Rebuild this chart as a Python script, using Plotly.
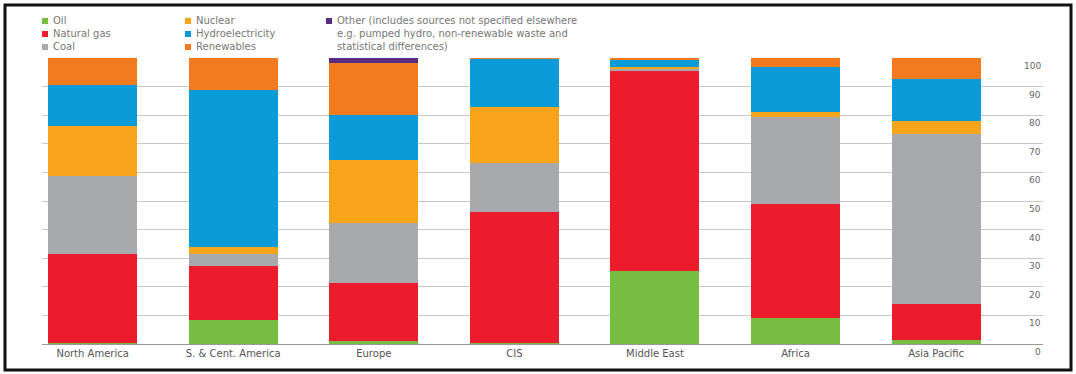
import plotly.graph_objects as go

regions = ["North America", "S. & Cent. America", "Europe", "CIS",
           "Middle East", "Africa", "Asia Pacific"]

oil = [0.5, 8.3, 1.0, 0.5, 25.6, 9.2, 1.5]
natural_gas = [31.1, 19.1, 20.2, 45.8, 69.9, 39.6, 12.4]
coal = [27.0, 4.1, 21.0, 17.0, 1.0, 30.6, 59.7]
nuclear = [17.5, 2.5, 22.2, 19.6, 0.5, 1.8, 4.4]
hydro = [14.4, 54.8, 15.5, 17.0, 2.5, 15.5, 14.5]
renewables = [9.5, 11.2, 18.2, 0.1, 0.5, 3.3, 7.5]
other = [0.0, 0.0, 1.9, 0.0, 0.0, 0.0, 0.0]

y_ticks = [0, 10, 20, 30, 40, 50, 60, 70, 80, 90, 100]

series = [
    ("Oil", oil, "#77bd43"),
    ("Natural gas", natural_gas, "#ec1c2c"),
    ("Coal", coal, "#a7a9ac"),
    ("Nuclear", nuclear, "#f8a51b"),
    ("Hydroelectricity", hydro, "#0a9bd8"),
    ("Renewables", renewables, "#f47a20"),
    ("Other", other, "#5b2c83"),
]
other_label = ["Other (includes sources not specified elsewhere",
               "e.g. pumped hydro, non-renewable waste and",
               "statistical differences)"]

fig = go.Figure()
for name, vals, col in series:
    fig.add_trace(go.Bar(x=regions, y=vals, name=name, marker_color=col,
                         marker_line_width=0, width=0.633, showlegend=False))

W, H = 1076, 374
L, R, T, B = 42, 33, 58, 30
pw = W - L - R
ph = H - T - B


def px_x(p):
    return (p - L) / pw


def px_y(p):
    return (H - B - p) / ph


fig.update_layout(
    width=W, height=H,
    margin=dict(l=L, r=R, t=T, b=B),
    barmode="stack",
    paper_bgcolor="white",
    plot_bgcolor="white",
    font=dict(family="DejaVu Sans", color="#666"),
    xaxis=dict(range=[-0.36, 6.76], showgrid=False, showline=True,
               linecolor="#999", linewidth=1, ticks="",
               tickfont=dict(size=10, color="#555")),
    yaxis=dict(range=[0, 100], side="right", tickvals=y_ticks,
               showticklabels=False,
               showgrid=True, gridcolor="#c8c8c8", gridwidth=1,
               zeroline=False, showline=False, ticks=""),
)

# right-hand tick labels, sitting just under each gridline end
for v in y_ticks:
    fig.add_annotation(xref="paper", yref="y", x=1.0, y=v, text=str(v),
                       showarrow=False, xanchor="right", yanchor="top",
                       yshift=-1, font=dict(size=9, color="#666"))

# legend: three columns, each one text block plus colour squares
row_y = [21, 34, 47]
columns = [
    (45, series[0:3], [s[0] for s in series[0:3]]),
    (188, series[3:6], [s[0] for s in series[3:6]]),
    (329, series[6:7], other_label),
]
for xp, items, lines in columns:
    for (name, vals, col), yp in zip(items, row_y):
        fig.add_shape(type="rect", xref="paper", yref="paper",
                      x0=px_x(xp - 3), x1=px_x(xp + 3),
                      y0=px_y(yp + 3), y1=px_y(yp - 3),
                      fillcolor=col, line_width=0)
    fig.add_annotation(xref="paper", yref="paper", x=px_x(xp + 7),
                       y=px_y(row_y[1]), text="<br>".join(lines),
                       showarrow=False, xanchor="left", yanchor="middle",
                       align="left", borderpad=0,
                       font=dict(size=10, color="#777"))

# outer frame
fig.add_shape(type="rect", xref="paper", yref="paper",
              x0=px_x(5), x1=px_x(1071), y0=px_y(370), y1=px_y(5),
              line=dict(color="#111", width=3), fillcolor="rgba(0,0,0,0)",
              layer="above")

fig.write_html("out.html",
               config={"displayModeBar": False},
               post_script="document.body.style.margin='0';"
                           "document.body.style.overflow='hidden';")
